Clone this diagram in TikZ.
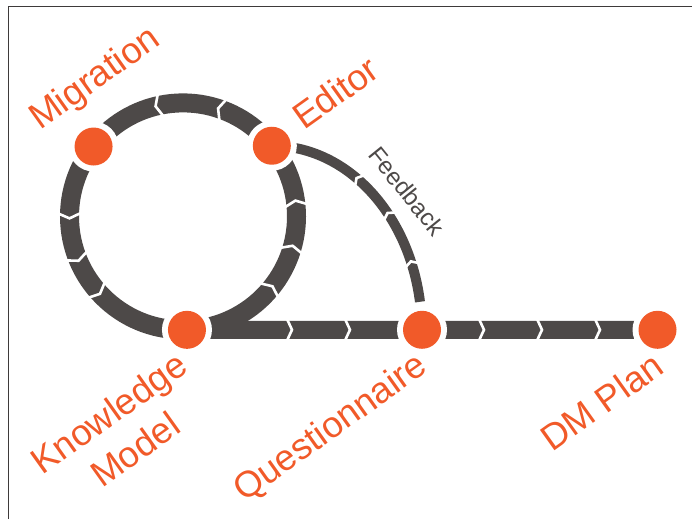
\documentclass[tikz,border=0pt]{standalone}
\usepackage{fontspec}
\setmainfont{Liberation Sans}
\usetikzlibrary{calc}
\definecolor{dmorange}{RGB}{241,90,41}
\definecolor{dmgray}{RGB}{77,73,72}
\begin{document}
\begin{tikzpicture}[x=1pt,y=1pt,
  band/.style={draw=dmgray, line width=19pt},
  hband/.style={draw=dmgray, line width=18pt},
  fband/.style={draw=dmgray, line width=10pt},
  gapline/.style={draw=white, line width=2.6pt, line join=miter},
  dot/.style={circle, fill=dmorange, minimum size=38pt, inner sep=0pt},
  lbl/.style={text=dmorange, font=\fontsize{36.5}{45}\selectfont, rotate=35.5, inner sep=0pt},
  fblbl/.style={text=dmgray, font=\fontsize{24}{28}\selectfont, rotate=-51, inner sep=0pt}]
\useasboundingbox (0,0) rectangle (692,519);
\draw[dmgray!80!black, line width=1pt] (8,0) -- (8,512) -- (692,512);
% geometry
\coordinate (C) at (183,302.6);
\coordinate (mig) at ($(C)+(142:113.5)$);
\coordinate (edi) at ($(C)+(38.5:113.5)$);
\coordinate (km) at ($(C)+(272:113.5)$);
\coordinate (que) at (422,189.2);
\coordinate (dmp) at (657.5,189.2);
% bands
\draw[band] (C) circle[radius=113.5];
\draw[hband] (km) -- (dmp);
\draw[fband] (edi) arc[start angle=90, end angle=9, x radius=150, y radius=185];
% chevron gaps on circle (flow counter-clockwise)
\foreach \a in {8,-15,-38,72,104,181,203,223}
  \draw[gapline, shift={(C)}, rotate=\a, shift={(113.5,0)}, rotate=90] (-5,11) -- (0,0) -- (-5,-11);
% chevron gaps on line
\foreach \x in {292,350,484,542,600}
  \draw[gapline] (\x-5,200) -- (\x,189.2) -- (\x-5,178.4);
% chevron gaps on feedback arc
\foreach \t in {55.6,39.5,22} {
  \pgfmathsetmacro{\gx}{271.8+150*cos(\t)}
  \pgfmathsetmacro{\gy}{188.3+185*sin(\t)}
  \pgfmathsetmacro{\ga}{atan2(185*cos(\t),-150*sin(\t))}
  \draw[gapline, shift={(\gx,\gy)}, rotate=\ga] (-4,7) -- (0,0) -- (-4,-7);
}
% halos and dots
\foreach \p in {mig,edi,km,que,dmp} \fill[white] (\p) circle[radius=25];
\node[dot] (migdot) at (mig) {};
\node[dot] (edidot) at (edi) {};
\node[dot] (kmdot) at (km) {};
\node[dot] (quedot) at (que) {};
\node[dot] (dmpdot) at (dmp) {};
% labels
\node[lbl, anchor=base west] (migl) at (40,388) {Migration};
\node[lbl, anchor=base west] (edil) at (304,388) {Editor};
\node[lbl, align=center, anchor=center] (kml) at (122,88) {Knowledge\\Model};
\node[lbl, anchor=base west] (quel) at (244,16) {Questionnaire};
\node[lbl, anchor=base west] (dmpl) at (552,66) {DM Plan};
\node[fblbl] (fbl) at (407,328) {Feedback};
\end{tikzpicture}
\end{document}
